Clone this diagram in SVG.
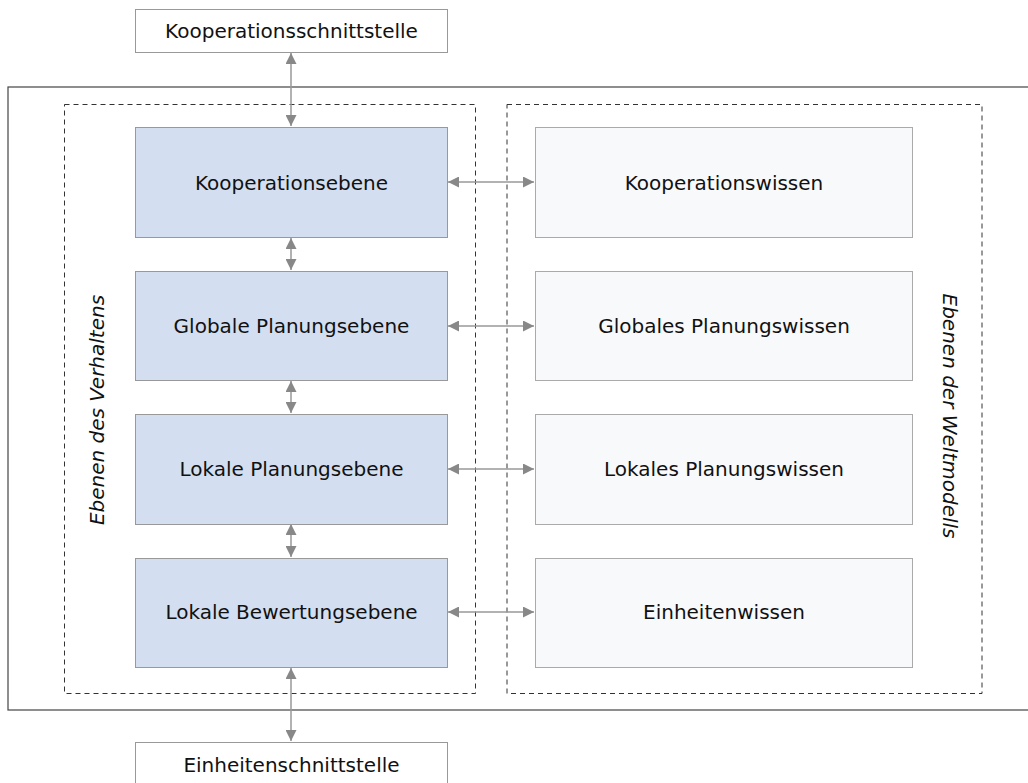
<svg xmlns="http://www.w3.org/2000/svg" width="1028" height="783" viewBox="0 0 1028 783">
  <style>
    .lbl { font-family: "DejaVu Sans", sans-serif; font-size: 20px; fill: #111; text-anchor: middle; dominant-baseline: central; }
    .side { font-family: "DejaVu Sans", sans-serif; font-size: 20px; font-style: italic; fill: #111; text-anchor: middle; dominant-baseline: central; }
    .iface { fill: #ffffff; stroke: #999; stroke-width: 1; }
    .layer { fill: #d3dff0; stroke: #999; stroke-width: 1; }
    .know { fill: #f8f9fb; stroke: #aaa; stroke-width: 1; }
    .frame { fill: none; stroke: #444; stroke-width: 1.2; }
    .group { fill: none; stroke: #333; stroke-width: 1; stroke-dasharray: 5 4; }
    .conn { fill: none; stroke: #999; stroke-width: 1.5; marker-start: url(#head); marker-end: url(#head); }
  </style>
  <defs>
    <marker id="head" viewBox="0 0 10 10" refX="10" refY="5" markerWidth="11" markerHeight="11" markerUnits="userSpaceOnUse" orient="auto-start-reverse">
      <path d="M0,0 L10,5 L0,10 z" fill="#888"/>
    </marker>
  </defs>

  <!-- outer system frame and the two dashed groups -->
  <rect class="frame" x="8" y="87" width="1030" height="623"/>
  <rect class="group" x="64.5" y="104.5" width="411" height="589"/>
  <rect class="group" x="507" y="104.5" width="475" height="589"/>
  <text class="side" transform="translate(97,410) rotate(-90)">Ebenen des Verhaltens</text>
  <text class="side" transform="translate(950,416) rotate(90)">Ebenen der Weltmodells</text>

  <g id="connectors">
    <line class="conn" x1="291" y1="53" x2="291" y2="126"/>
    <line class="conn" x1="291" y1="238" x2="291" y2="270"/>
    <line class="conn" x1="291" y1="381" x2="291" y2="413"/>
    <line class="conn" x1="291" y1="524" x2="291" y2="557"/>
    <line class="conn" x1="291" y1="668" x2="291" y2="741"/>
    <line class="conn" x1="448" y1="182" x2="534" y2="182"/>
    <line class="conn" x1="448" y1="326" x2="534" y2="326"/>
    <line class="conn" x1="448" y1="469" x2="534" y2="469"/>
    <line class="conn" x1="448" y1="612" x2="534" y2="612"/>
  </g>

  <g id="kooperationsschnittstelle">
    <rect class="iface" x="135.5" y="9.5" width="312" height="43"/>
    <text class="lbl" x="291.5" y="31">Kooperationsschnittstelle</text>
  </g>
  <g id="einheitenschnittstelle">
    <rect class="iface" x="135.5" y="742.5" width="312" height="50"/>
    <text class="lbl" x="291.5" y="765">Einheitenschnittstelle</text>
  </g>

  <g id="kooperationsebene">
    <rect class="layer" x="135.5" y="127.5" width="312" height="110"/>
    <text class="lbl" x="291.5" y="183">Kooperationsebene</text>
  </g>
  <g id="globale-planungsebene">
    <rect class="layer" x="135.5" y="271.5" width="312" height="109"/>
    <text class="lbl" x="291.5" y="326">Globale Planungsebene</text>
  </g>
  <g id="lokale-planungsebene">
    <rect class="layer" x="135.5" y="414.5" width="312" height="110"/>
    <text class="lbl" x="291.5" y="469">Lokale Planungsebene</text>
  </g>
  <g id="lokale-bewertungsebene">
    <rect class="layer" x="135.5" y="558.5" width="312" height="109"/>
    <text class="lbl" x="291.5" y="612">Lokale Bewertungsebene</text>
  </g>

  <g id="kooperationswissen">
    <rect class="know" x="535.5" y="127.5" width="377" height="110"/>
    <text class="lbl" x="724" y="183">Kooperationswissen</text>
  </g>
  <g id="globales-planungswissen">
    <rect class="know" x="535.5" y="271.5" width="377" height="109"/>
    <text class="lbl" x="724" y="326">Globales Planungswissen</text>
  </g>
  <g id="lokales-planungswissen">
    <rect class="know" x="535.5" y="414.5" width="377" height="110"/>
    <text class="lbl" x="724" y="469">Lokales Planungswissen</text>
  </g>
  <g id="einheitenwissen">
    <rect class="know" x="535.5" y="558.5" width="377" height="109"/>
    <text class="lbl" x="724" y="612">Einheitenwissen</text>
  </g>
</svg>
